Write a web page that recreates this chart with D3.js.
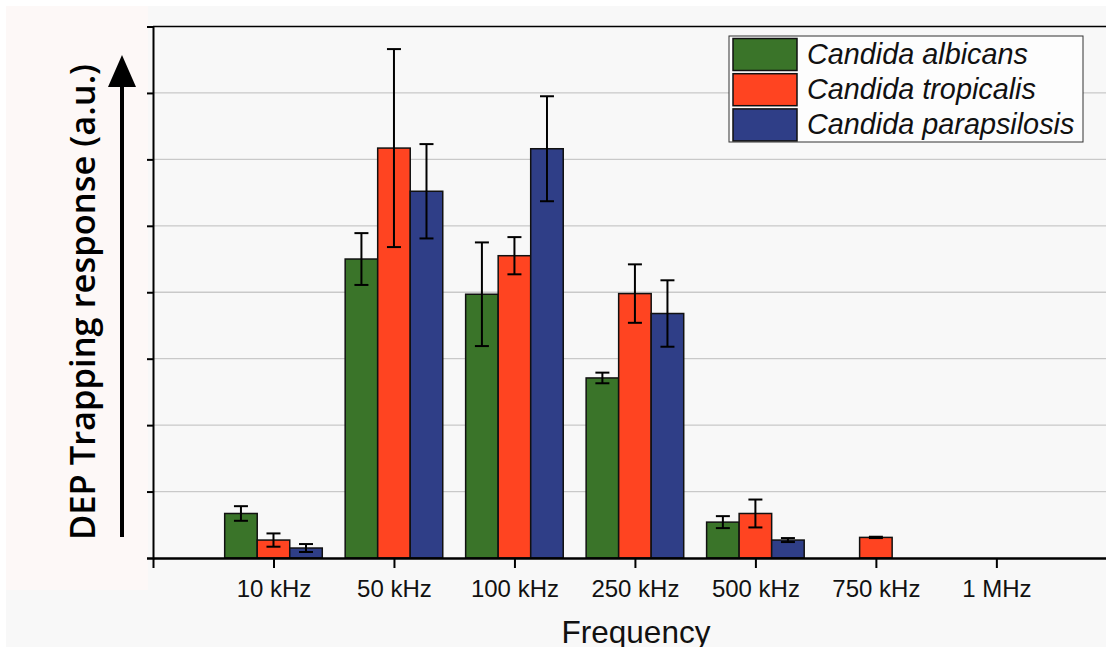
<!DOCTYPE html>
<html>
<head>
<meta charset="utf-8">
<script src="https://cdn.jsdelivr.net/npm/d3@7"></script>
<style>
  body { margin: 0; background: #ffffff; }
  svg { display: block; }
</style>
</head>
<body>
<div id="chart"></div>
<script>
// categories and series
var categories = ["10 kHz", "50 kHz", "100 kHz", "250 kHz", "500 kHz", "750 kHz", "1 MHz"];
var seriesNames = ["Candida albicans", "Candida tropicalis", "Candida parapsilosis"];
var albicans = [0.67, 4.50, 3.97, 2.71, 0.54, 0, 0];
var albicansErr = [0.11, 0.39, 0.78, 0.08, 0.09, 0, 0];
var tropicalis = [0.27, 6.17, 4.55, 3.98, 0.67, 0.31, 0];
var tropicalisErr = [0.10, 1.49, 0.28, 0.44, 0.21, 0.01, 0];
var parapsilosis = [0.15, 5.52, 6.16, 3.68, 0.27, 0, 0];
var parapsilosisErr = [0.06, 0.71, 0.79, 0.50, 0.03, 0, 0];
var yTicks = [0, 1, 2, 3, 4, 5, 6, 7, 8];

var colors = ["#3a7429", "#ff4421", "#2f3e87"];
var values = [albicans, tropicalis, parapsilosis];
var errors = [albicansErr, tropicalisErr, parapsilosisErr];

var W = 1106, H = 647;
var svg = d3.select("#chart").append("svg")
    .attr("width", W)
    .attr("height", H);

// backgrounds
svg.append("rect").attr("x", 6).attr("y", 6).attr("width", W - 6).attr("height", H - 6).attr("fill", "#f8f8f8");
svg.append("rect").attr("x", 6).attr("y", 6).attr("width", 142).attr("height", 584).attr("fill", "#fdf8f7");

// scales
var x = d3.scaleLinear().domain([0, 7.91]).range([153, 1106]);
var y = d3.scaleLinear().domain([0, 8]).range([558, 26.5]);
var groupW = x(0.81) - x(0);
var xb = d3.scaleBand().domain(seriesNames).range([-groupW / 2, groupW / 2]);

// grid lines
svg.append("g").selectAll("line")
    .data(yTicks.filter(function (d) { return d > 0 && d < 8; }))
    .enter().append("line")
    .attr("x1", x(0)).attr("x2", W)
    .attr("y1", function (d) { return y(d); })
    .attr("y2", function (d) { return y(d); })
    .attr("stroke", "#c9c9c9")
    .attr("stroke-width", 1.3);

// flatten data
var rows = [];
categories.forEach(function (c, i) {
    seriesNames.forEach(function (s, j) {
        rows.push({ cat: i + 1, name: s, idx: j, v: values[j][i], e: errors[j][i] });
    });
});
rows = rows.filter(function (d) { return d.v > 0; });

// bars
svg.append("g").selectAll("rect")
    .data(rows)
    .enter().append("rect")
    .attr("x", function (d) { return x(d.cat) + xb(d.name); })
    .attr("y", function (d) { return y(d.v); })
    .attr("width", xb.bandwidth())
    .attr("height", function (d) { return y(0) - y(d.v); })
    .attr("fill", function (d) { return colors[d.idx]; })
    .attr("stroke", "#111")
    .attr("stroke-width", 1.5);

// error bars
var eb = svg.append("g").attr("stroke", "#000").attr("stroke-width", 2);
rows.forEach(function (d) {
    var cx = x(d.cat) + xb(d.name) + xb.bandwidth() / 2;
    eb.append("line").attr("x1", cx).attr("x2", cx).attr("y1", y(d.v + d.e)).attr("y2", y(d.v - d.e));
    eb.append("line").attr("x1", cx - 7).attr("x2", cx + 7).attr("y1", y(d.v + d.e)).attr("y2", y(d.v + d.e));
    eb.append("line").attr("x1", cx - 7).attr("x2", cx + 7).attr("y1", y(d.v - d.e)).attr("y2", y(d.v - d.e));
});

// top frame line
svg.append("line").attr("x1", x(0)).attr("x2", W).attr("y1", y(8)).attr("y2", y(8))
    .attr("stroke", "#000").attr("stroke-width", 1.5);

// y axis
var yAxis = svg.append("g")
    .attr("transform", "translate(" + x(0) + ",0)")
    .call(d3.axisLeft(y).tickValues(yTicks).tickSize(6).tickFormat(""));
yAxis.select(".domain").attr("stroke-width", 2);
yAxis.selectAll(".tick line").attr("stroke-width", 2);

// x axis
var xAxis = svg.append("g")
    .attr("transform", "translate(0," + y(0) + ")")
    .call(d3.axisBottom(x).tickValues([0, 1, 2, 3, 4, 5, 6, 7]).tickSize(10).tickSizeOuter(0)
        .tickFormat(function (d) { return d > 0 ? categories[d - 1] : ""; }));
xAxis.select(".domain").attr("stroke-width", 2.5);
xAxis.selectAll(".tick line").attr("stroke-width", 2);
xAxis.selectAll(".tick text")
    .attr("dy", 0)
    .attr("y", 39)
    .attr("fill", "#111")
    .style("font-family", "'Liberation Sans', Arial, sans-serif")
    .style("font-size", "24px");

// x title
svg.append("text")
    .attr("x", 636).attr("y", 643)
    .attr("text-anchor", "middle")
    .style("font-family", "'Liberation Sans', Arial, sans-serif")
    .style("font-size", "31.5px")
    .attr("fill", "#111")
    .text("Frequency");

// y title
svg.append("text")
    .attr("transform", "translate(95,302) rotate(-90)")
    .attr("text-anchor", "middle")
    .style("font-family", "'Open Sans', sans-serif")
    .style("font-weight", 600)
    .style("font-size", "34.5px")
    .attr("fill", "#000")
    .text("DEP Trapping response (a.u.)");

// arrow
svg.append("line").attr("x1", 122).attr("x2", 122).attr("y1", 537).attr("y2", 80)
    .attr("stroke", "#000").attr("stroke-width", 4);
svg.append("path").attr("d", "M108,87 L122,55 L136,87 Z").attr("fill", "#000");

// legend
var lg = svg.append("g");
lg.append("rect").attr("x", 729).attr("y", 36).attr("width", 354).attr("height", 106)
    .attr("fill", "#fdfdfd").attr("stroke", "#333").attr("stroke-width", 1);
seriesNames.forEach(function (s, i) {
    var top = 38.5 + i * 35.2;
    lg.append("rect").attr("x", 733).attr("y", top).attr("width", 64).attr("height", 32)
        .attr("fill", colors[i]).attr("stroke", "#111").attr("stroke-width", 1.5);
    lg.append("text").attr("x", 807).attr("y", top + 25)
        .style("font-family", "'Liberation Sans', Arial, sans-serif")
        .style("font-style", "italic")
        .style("font-size", "28.8px")
        .attr("fill", "#111")
        .text(s);
});
</script>
</body>
</html>
